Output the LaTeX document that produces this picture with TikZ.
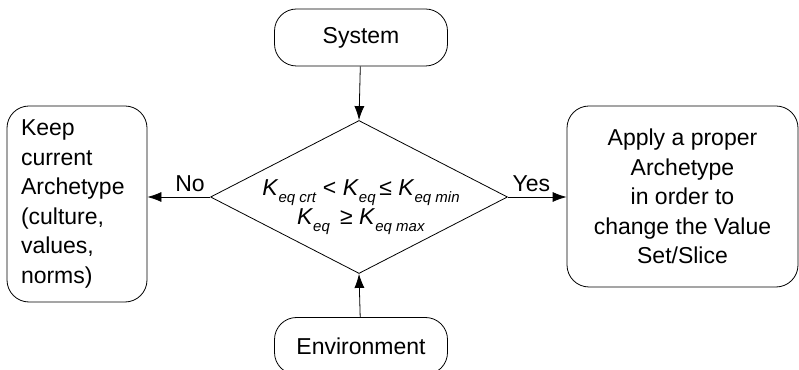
\documentclass[tikz,border=0pt]{standalone}
\usepackage{fontspec}
\setmainfont{Liberation Sans}
\usetikzlibrary{shapes.geometric,arrows.meta}

\newcommand{\Kidx}[1]{\textit{K}\raisebox{-0.6ex}{\fontsize{15}{15}\selectfont\textit{#1}}}

\begin{document}
\begin{tikzpicture}[x=1pt,y=1pt,
    every node/.style={font=\fontsize{23}{29.5}\selectfont},
    roundbox/.style={draw, thick, rounded corners=22pt, inner sep=0pt},
    decision/.style={draw, thick, diamond, inner sep=0pt, minimum width=297pt, minimum height=153pt},
    flow/.style={thick, -{Latex[length=14pt,width=10pt]}}]

    % frame
    \useasboundingbox (0,0) rectangle (799,369);

    % terminals
    \node[roundbox, minimum width=173pt, minimum height=57pt] (system) at (361,331.5) {System};
    \node[roundbox, minimum width=173pt, minimum height=57pt] (environment) at (361,23) {Environment};

    % decision
    \node[decision] (check) at (359,172) {};
    \node (cond) at ([xshift=2pt,yshift=-8pt]check.center) {\begin{tabular}{c}
        \Kidx{eq crt} < \Kidx{eq}\,≤ \Kidx{eq min}\\[-2pt]
        \Kidx{eq} \,≥ \Kidx{eq max}
    \end{tabular}};

    % outcomes
    \node[roundbox, minimum width=140pt, minimum height=196pt, text width=112pt, align=left] (keep) at (77,165)
        {Keep\\current\\Archetype\\(culture,\\values,\\norms)};
    \node[roundbox, minimum width=231pt, minimum height=181pt, align=center] (apply) at (682.5,172.5)
        {Apply a proper\\Archetype\\in order to\\change the Value\\Set/Slice};

    % arrows
    \draw[flow] (system) -- (check.north);
    \draw[flow] (environment) -- (check.south);
    \draw[flow] (check.west) -- (check.west -| keep.east) node[pos=0.32, above=2pt] (no) {No};
    \draw[flow] (check.east) -- (check.east -| apply.west) node[pos=0.4, above=2pt] (yes) {Yes};
\end{tikzpicture}
\end{document}
